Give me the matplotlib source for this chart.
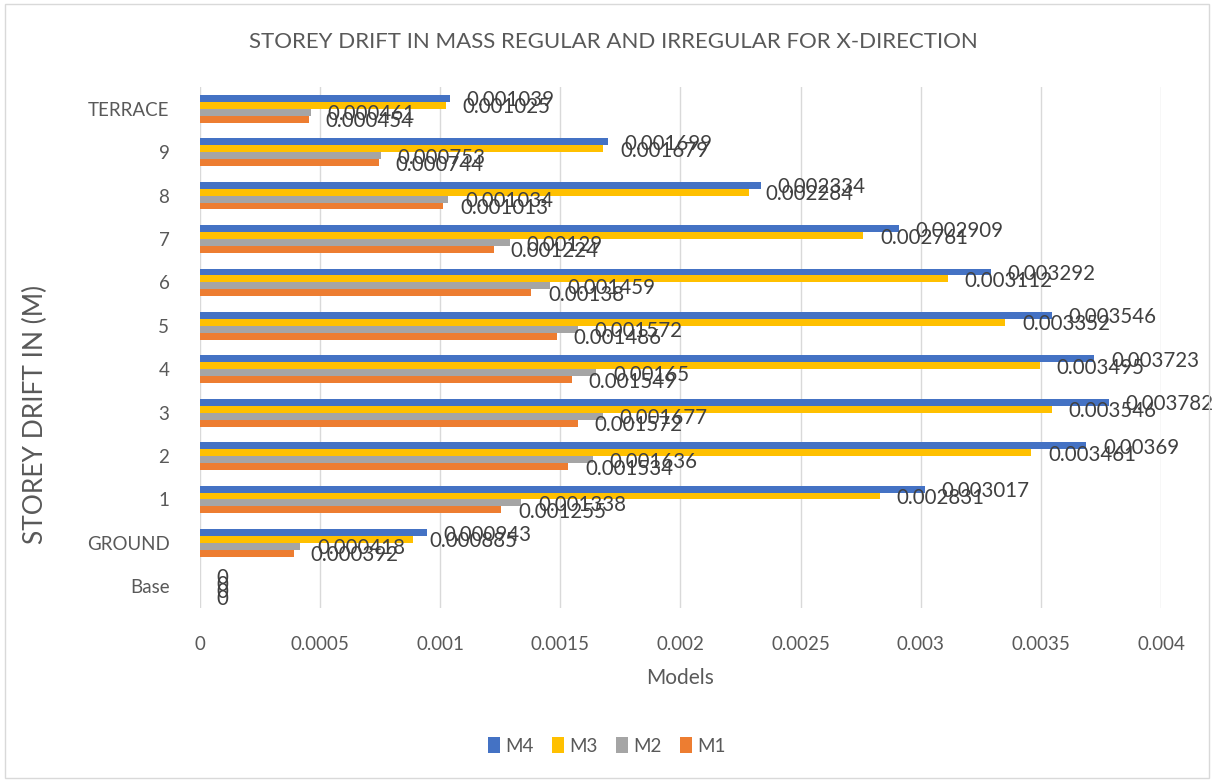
import numpy as np
import matplotlib
matplotlib.use("Agg")
from matplotlib import pyplot as plt
from matplotlib.patches import Rectangle

plt.rcParams['font.family'] = ['Lato', 'DejaVu Sans']

storeys = ["Base", "GROUND", "1", "2", "3", "4", "5", "6", "7", "8", "9", "TERRACE"]
m4 = [0, 0.000943, 0.003017, 0.00369, 0.003782, 0.003723, 0.003546, 0.003292, 0.002909, 0.002334, 0.001699, 0.001039]
m3 = [0, 0.000885, 0.002831, 0.003461, 0.003546, 0.003495, 0.003352, 0.003112, 0.002761, 0.002284, 0.001679, 0.001025]
m2 = [0, 0.000418, 0.001338, 0.001636, 0.001677, 0.00165, 0.001572, 0.001459, 0.00129, 0.001034, 0.000753, 0.000461]
m1 = [0, 0.000392, 0.001255, 0.001534, 0.001572, 0.001549, 0.001486, 0.00138, 0.001224, 0.001013, 0.000744, 0.000454]

series = [("M4", m4, "#4472C4"), ("M3", m3, "#FFC000"), ("M2", m2, "#A5A5A5"), ("M1", m1, "#ED7D31")]
offsets = [0.24, 0.08, -0.08, -0.24]
bh = 0.16

fig = plt.figure(figsize=(12.14, 7.82), dpi=100)
ax = fig.add_axes([0.1647, 0.2225, 0.7916, 0.6662])
fig.patches.append(Rectangle((0.004, 0.005), 0.992, 0.99, transform=fig.transFigure,
                             fill=False, edgecolor="#D9D9D9", linewidth=1))

y = np.arange(len(storeys))
bars = []
for (name, vals, col), off in zip(series, offsets):
    b = ax.barh(y + off, vals, height=bh, color=col, label=name, zorder=3)
    bars.append(b)
    for yy, v in zip(y + off, vals):
        ax.annotate(f"{v:g}" if v != 0 else "0", (v, yy), xytext=(12, -1.5),
                    textcoords="offset points", va="center", ha="left",
                    fontsize=14.8, color="#404040", zorder=4)

ax.set_xlim(0, 0.004)
ax.set_ylim(-0.5, len(storeys) - 0.5)
ax.set_xticks(np.arange(0, 0.0041, 0.0005))
ax.set_xticklabels(["0", "0.0005", "0.001", "0.0015", "0.002", "0.0025", "0.003", "0.0035", "0.004"])
ax.set_yticks(y)
ax.set_yticklabels(storeys)
ax.tick_params(axis="both", length=0, labelsize=13.5, labelcolor="#595959")
ax.tick_params(axis="x", pad=20)
ax.tick_params(axis="y", pad=22)
ax.grid(axis="x", color="#D9D9D9", linewidth=1, zorder=0)
for s in ax.spines.values():
    s.set_visible(False)

fig.text(0.505, 1 - 42 / 782, "STOREY DRIFT IN MASS REGULAR AND IRREGULAR FOR X-DIRECTION",
         fontsize=16, color="#595959", ha="center", va="center")
ax.set_xlabel("Models", fontsize=15, color="#595959", labelpad=11)
fig.text(35 / 1214, 1 - 414 / 782, "STOREY DRIFT IN (M)", rotation=90,
         fontsize=19, color="#595959", ha="center", va="center")

fig.legend(handles=bars, labels=[s[0] for s in series], loc="center",
           bbox_to_anchor=(0.5, 0.046), ncol=4, frameon=False, fontsize=13.5,
           labelcolor="#595959", handlelength=0.6, handleheight=0.9,
           handletextpad=0.3, columnspacing=1.0)

fig.savefig("out.png", dpi=100)
